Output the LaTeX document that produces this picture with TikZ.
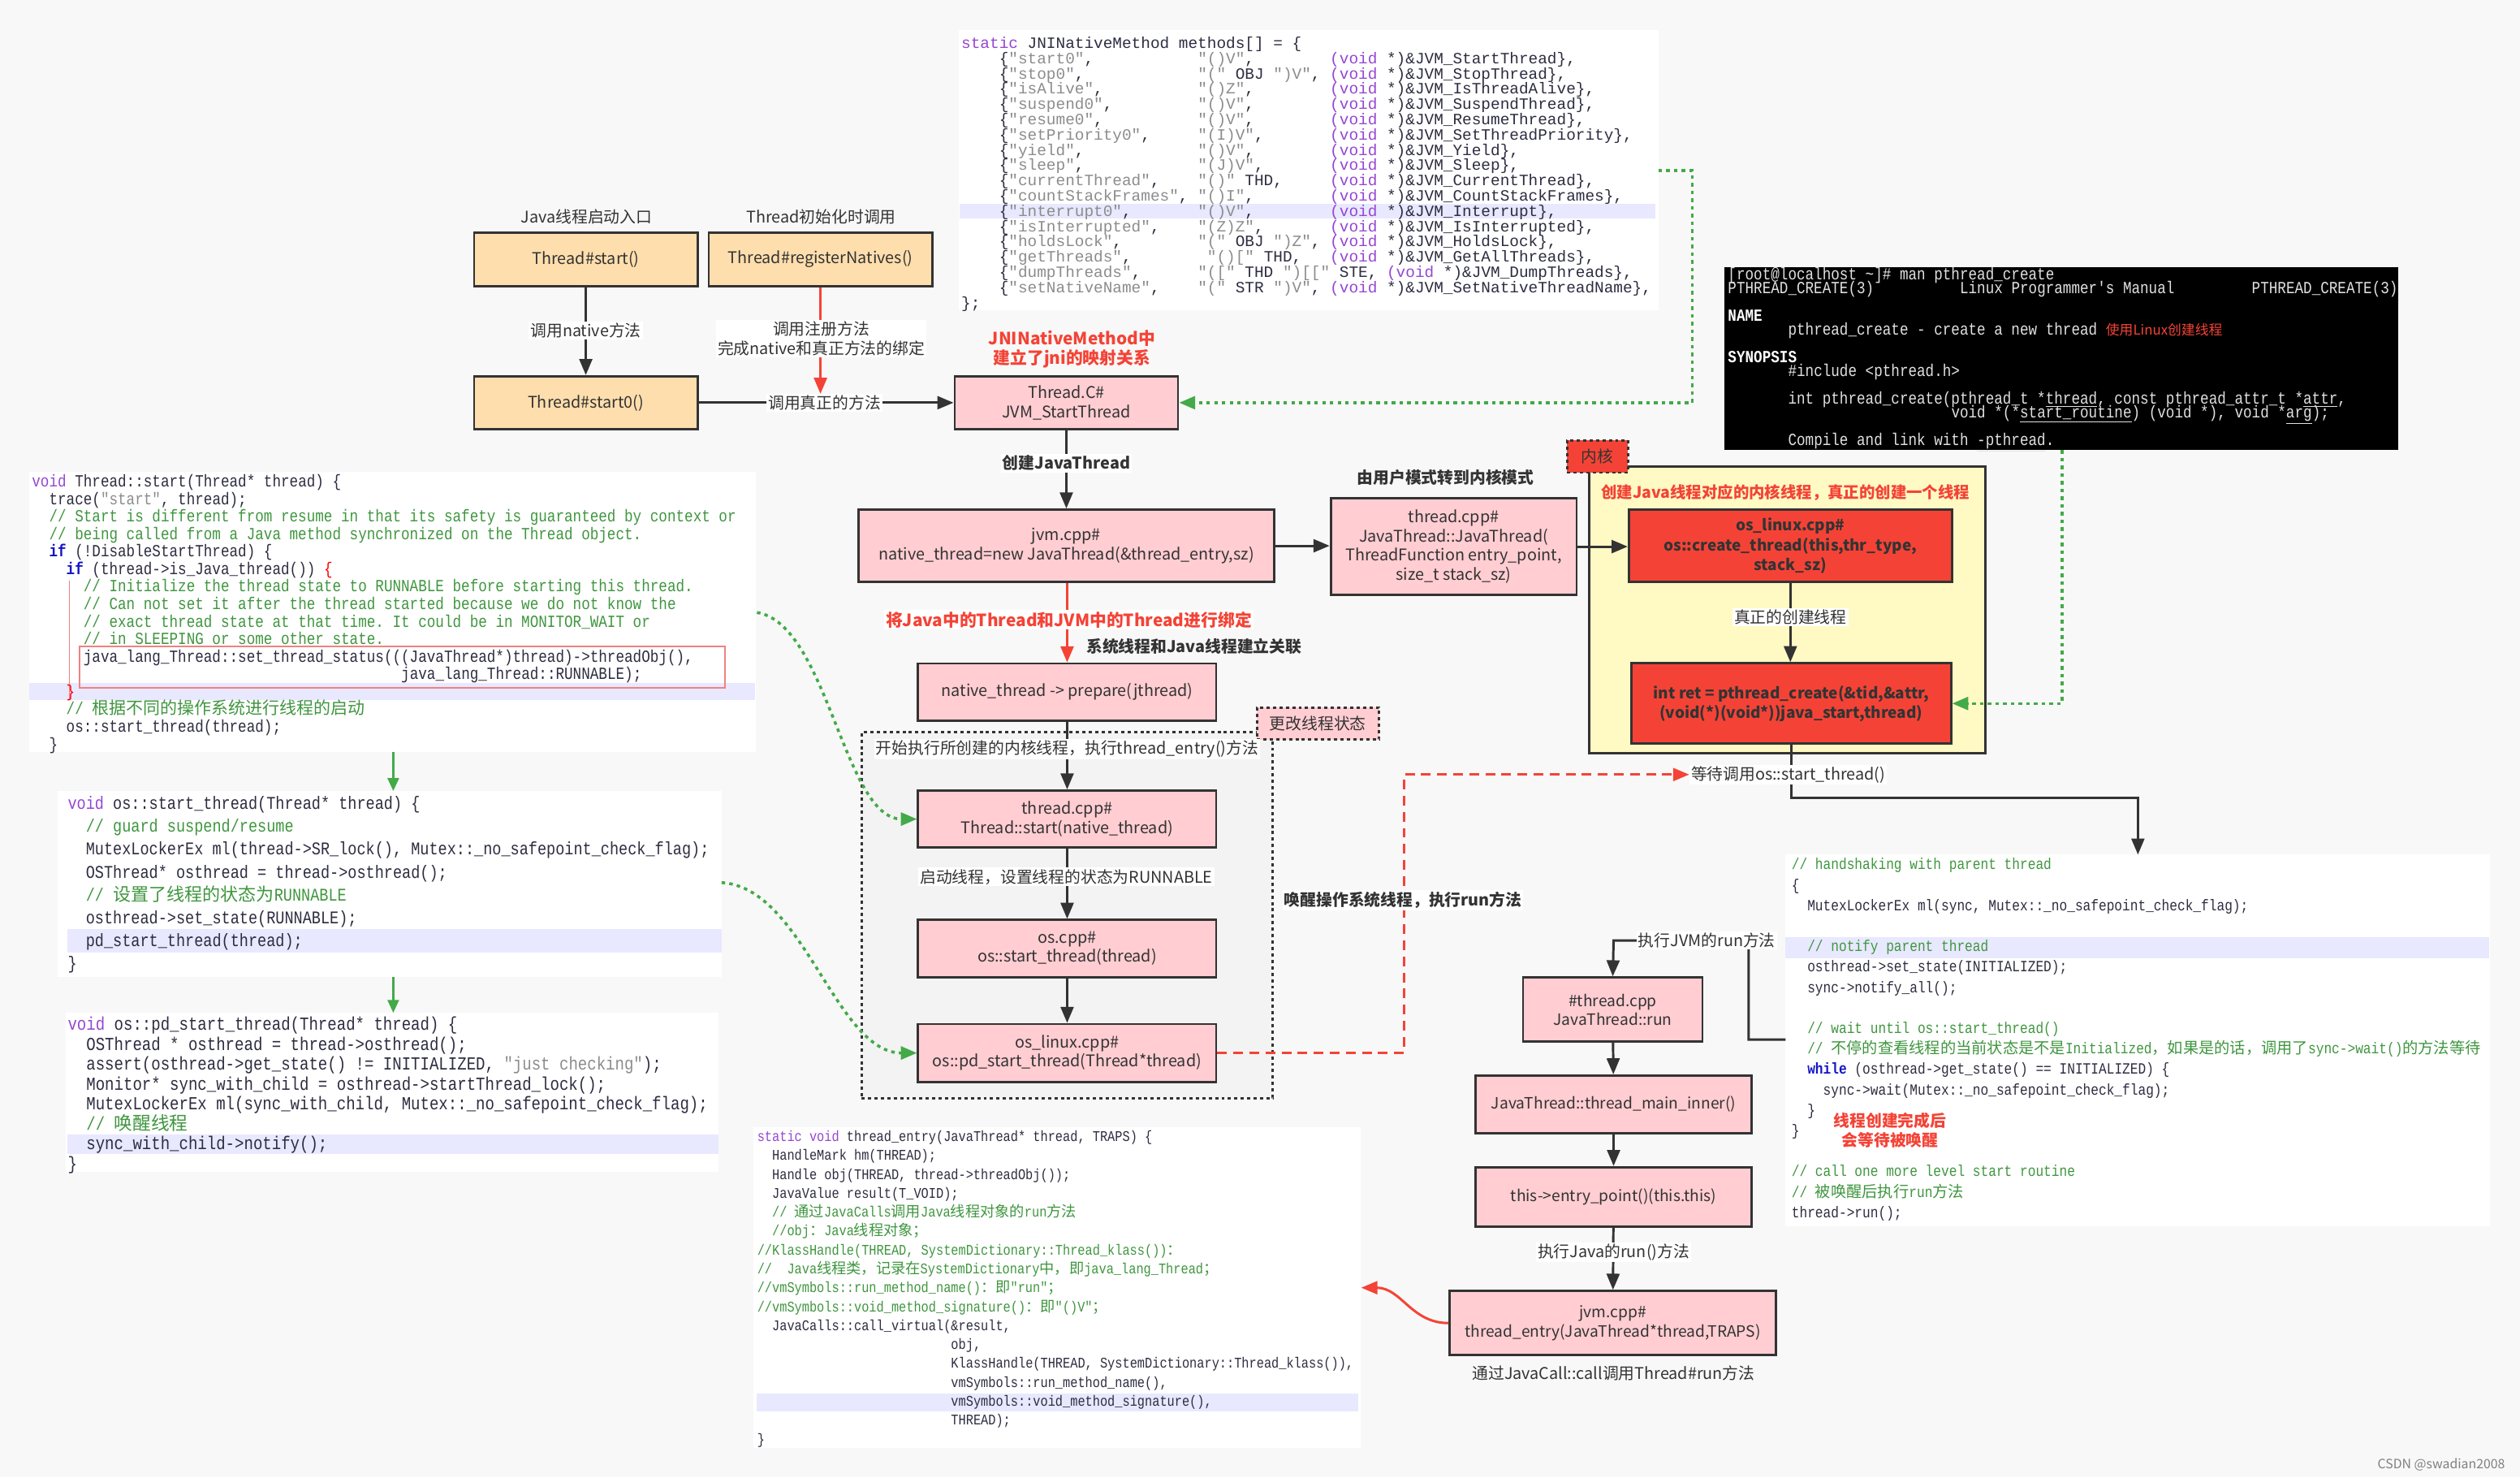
\documentclass[tikz,border=0pt]{standalone}
\usepackage{fontspec}
\setmainfont{Noto Sans CJK SC}
\newfontfamily\cjk{Noto Sans CJK SC}
\newfontfamily\codeW{Liberation Mono}
\newfontfamily\codeN[FakeStretch=0.84]{Liberation Mono}
\usetikzlibrary{arrows.meta}
\definecolor{bgc}{RGB}{248,248,248}
\definecolor{dk}{RGB}{51,51,51}
\definecolor{orangef}{RGB}{255,222,173}
\definecolor{pinkf}{RGB}{255,205,210}
\definecolor{redf}{RGB}{244,67,54}
\definecolor{yelf}{RGB}{255,249,196}
\definecolor{grpf}{RGB}{243,243,243}
\definecolor{grn}{RGB}{67,170,72}
\definecolor{ckw}{RGB}{150,70,210}
\definecolor{cst}{RGB}{140,140,140}
\definecolor{ccm}{RGB}{63,150,63}
\definecolor{cbk}{RGB}{20,20,200}
\definecolor{ctx}{RGB}{45,45,65}
\definecolor{hl}{RGB}{232,232,255}
\definecolor{termtx}{RGB}{225,225,225}
\definecolor{boxred}{RGB}{240,130,130}
\newlength\cw
\newcommand\Kw[1]{{\color{ckw}#1}}
\newcommand\Str[1]{{\color{cst}#1}}
\newcommand\Cmt[1]{{\color{ccm}#1}}
\newcommand\Bk[1]{{\color{cbk}\bfseries #1}}
\newcommand\Ix[1]{\hskip #1\cw\relax}
\newcommand\Pad[2]{\makebox[#1\cw][l]{#2}}
\newcommand\Ln[1]{\hbox{#1}}
\newcommand\CodeBlk[5][ctx]{{#2\fontsize{#3}{#4}\selectfont\frenchspacing\settowidth{\cw}{0}\color{#1}\vtop{\lineskiplimit=-100pt\lineskip=0pt\relax #5}}}
\begin{document}
\begin{tikzpicture}[x=1pt,y=-1pt,
 bx/.style={draw=dk, line width=1.4pt, inner sep=1pt, align=center, text=dk, font=\fontsize{10}{11.8}\selectfont},
 obox/.style={bx, fill=orangef},
 pbox/.style={bx, fill=pinkf},
 wbox/.style={bx, fill=pinkf, font=\fontsize{9.7}{11.8}\selectfont},
 rbox/.style={bx, fill=redf, font=\fontsize{9.6}{12.2}\selectfont\bfseries},
 lbl/.style={fill=white, inner sep=1pt, align=center, text=dk, font=\fontsize{10}{12.2}\selectfont},
 blbl/.style={inner sep=1pt, align=center, text=dk, font=\fontsize{10}{12}\selectfont\bfseries},
 bwlbl/.style={blbl, fill=white},
 rlbl/.style={inner sep=1pt, align=center, text=redf, font=\fontsize{10.5}{12}\selectfont\bfseries},
 plbl/.style={inner sep=1pt, align=center, text=dk, font=\fontsize{10}{12}\selectfont},
 myarr/.style={-{Triangle[length=10pt,width=8pt]}},
 barr/.style={draw=dk, line width=1.5pt, myarr},
 garr/.style={draw=grn, line width=1.8pt, dash pattern=on 2.2pt off 2.6pt, myarr},
 gsol/.style={draw=grn, line width=1.4pt, -{Triangle[length=8pt,width=7pt]}},
 rarr/.style={draw=redf, line width=1.5pt, myarr},
 rdarr/.style={rarr, dash pattern=on 6pt off 4pt},
 codebg/.style={fill=white, inner sep=0pt, outer sep=0pt, anchor=north west},
 cd/.style={anchor=base west, inner sep=0pt},
 dotbox/.style={draw=dk, line width=1.5pt, dash pattern=on 2pt off 2pt, inner sep=0pt, outer sep=0pt}
]
\useasboundingbox (0,0) rectangle (1568,919);
\fill[bgc] (0,0) rectangle (1568,919);

% ---------- code block backgrounds ----------
\node[codebg, minimum width=435.5pt, minimum height=174.4pt] (A) at (596.5,18.6) {};
\node[codebg, minimum width=452.5pt, minimum height=174.5pt] (L1) at (18,293.5) {};
\node[codebg, minimum width=413pt, minimum height=115.6pt] (L2) at (36,492) {};
\node[codebg, minimum width=406pt, minimum height=99pt] (L3) at (41,630) {};
\node[codebg, minimum width=377.5pt, minimum height=199.5pt] (B) at (469,701) {};
\node[codebg, minimum width=438.5pt, minimum height=231pt] (C) at (1111,531.6) {};
\node[codebg, fill=black, minimum width=419pt, minimum height=114pt] (term) at (1073,166) {};

% highlights
\fill[hl] (597,126.6) rectangle (1030,135.9);
\fill[hl] (18,425) rectangle (470,435.5);
\fill[hl] (42,578) rectangle (449,592.5);
\fill[hl] (42,705.5) rectangle (447,718);
\fill[hl] (471,867) rectangle (845,878);
\fill[hl] (1111,583) rectangle (1549,596);
\draw[boxred, line width=0.8pt] (49.5,402) rectangle (451,428);
\draw[boxred, line width=0.6pt] (43,361) -- (43,435);

% ---------- code A ----------
\node[cd] at (598,30) {\CodeBlk{\codeW}{9.8}{9.5}{
\Ln{\Kw{static} JNINativeMethod methods[] = \{}
\Ln{\Ix{4}\Pad{21}{\{\Str{"start0"},}\Pad{14}{\Str{"()V"},}\Kw{(void} *)\&JVM\_StartThread\},}
\Ln{\Ix{4}\Pad{21}{\{\Str{"stop0"},}\Pad{14}{\Str{"("} OBJ \Str{")V"},}\Kw{(void} *)\&JVM\_StopThread\},}
\Ln{\Ix{4}\Pad{21}{\{\Str{"isAlive"},}\Pad{14}{\Str{"()Z"},}\Kw{(void} *)\&JVM\_IsThreadAlive\},}
\Ln{\Ix{4}\Pad{21}{\{\Str{"suspend0"},}\Pad{14}{\Str{"()V"},}\Kw{(void} *)\&JVM\_SuspendThread\},}
\Ln{\Ix{4}\Pad{21}{\{\Str{"resume0"},}\Pad{14}{\Str{"()V"},}\Kw{(void} *)\&JVM\_ResumeThread\},}
\Ln{\Ix{4}\Pad{21}{\{\Str{"setPriority0"},}\Pad{14}{\Str{"(I)V"},}\Kw{(void} *)\&JVM\_SetThreadPriority\},}
\Ln{\Ix{4}\Pad{21}{\{\Str{"yield"},}\Pad{14}{\Str{"()V"},}\Kw{(void} *)\&JVM\_Yield\},}
\Ln{\Ix{4}\Pad{21}{\{\Str{"sleep"},}\Pad{14}{\Str{"(J)V"},}\Kw{(void} *)\&JVM\_Sleep\},}
\Ln{\Ix{4}\Pad{21}{\{\Str{"currentThread"},}\Pad{14}{\Str{"()"} THD,}\Kw{(void} *)\&JVM\_CurrentThread\},}
\Ln{\Ix{4}\Pad{21}{\{\Str{"countStackFrames"},}\Pad{14}{\Str{"()I"},}\Kw{(void} *)\&JVM\_CountStackFrames\},}
\Ln{\Ix{4}\Pad{21}{\{\Str{"interrupt0"},}\Pad{14}{\Str{"()V"},}\Kw{(void} *)\&JVM\_Interrupt\},}
\Ln{\Ix{4}\Pad{21}{\{\Str{"isInterrupted"},}\Pad{14}{\Str{"(Z)Z"},}\Kw{(void} *)\&JVM\_IsInterrupted\},}
\Ln{\Ix{4}\Pad{21}{\{\Str{"holdsLock"},}\Pad{14}{\Str{"("} OBJ \Str{")Z"},}\Kw{(void} *)\&JVM\_HoldsLock\},}
\Ln{\Ix{4}\Pad{22}{\{\Str{"getThreads"},}\Pad{13}{\Str{"()["} THD,}\Kw{(void} *)\&JVM\_GetAllThreads\},}
\Ln{\Ix{4}\Pad{21}{\{\Str{"dumpThreads"},}\Str{"(["} THD \Str{")[["} STE, \Kw{(void} *)\&JVM\_DumpThreads\},}
\Ln{\Ix{4}\Pad{21}{\{\Str{"setNativeName"},}\Pad{14}{\Str{"("} STR \Str{")V"},}\Kw{(void} *)\&JVM\_SetNativeThreadName\},}
\Ln{\};}
}};

% ---------- terminal ----------
\node[cd] at (1075,174) {\CodeBlk[termtx]{\codeN}{10.6}{8.6}{
\Ln{[root@localhost \textasciitilde]\# man pthread\_create}
\Ln{PTHREAD\_CREATE(3)\Ix{10}Linux Programmer's Manual\Ix{9}PTHREAD\_CREATE(3)}
\Ln{}
\Ln{{\color{white}\bfseries NAME}}
\Ln{\Ix{7}pthread\_create - create a new thread {\color{redf}\cjk\fontsize{8.5}{8.6}\selectfont 使用Linux创建线程}}
\Ln{}
\Ln{{\color{white}\bfseries SYNOPSIS}}
\Ln{\Ix{7}\#include <pthread.h>}
\Ln{}
\Ln{\Ix{7}int pthread\_create(pthread\_t *\underline{thread}, const pthread\_attr\_t *\underline{attr},}
\Ln{\Ix{26}void *(*\underline{start\_routine}) (void *), void *\underline{arg});}
\Ln{}
\Ln{\Ix{7}Compile and link with \underline{-pthread}.}
}};

% ---------- code L1 ----------
\node[cd] at (19.7,302.8) {\CodeBlk{\codeN}{10.6}{10.9}{
\Ln{\Kw{void} Thread::start(Thread* thread) \{}
\Ln{\Ix{2}trace(\Str{"start"}, thread);}
\Ln{\Ix{2}\Cmt{// Start is different from resume in that its safety is guaranteed by context or}}
\Ln{\Ix{2}\Cmt{// being called from a Java method synchronized on the Thread object.}}
\Ln{\Ix{2}\Bk{if} (!DisableStartThread) \{}
\Ln{\Ix{4}\Bk{if} (thread->is\_Java\_thread()) {\color{red}\{}}
\Ln{\Ix{6}\Cmt{// Initialize the thread state to RUNNABLE before starting this thread.}}
\Ln{\Ix{6}\Cmt{// Can not set it after the thread started because we do not know the}}
\Ln{\Ix{6}\Cmt{// exact thread state at that time. It could be in MONITOR\_WAIT or}}
\Ln{\Ix{6}\Cmt{// in SLEEPING or some other state.}}
\Ln{\Ix{6}java\_lang\_Thread::set\_thread\_status(((JavaThread*)thread)->threadObj(),}
\Ln{\Ix{43}java\_lang\_Thread::RUNNABLE);}
\Ln{\Ix{4}{\color{red}\}}}
\Ln{\Ix{4}\Cmt{// {\cjk 根据不同的操作系统进行线程的启动}}}
\Ln{\Ix{4}os::start\_thread(thread);}
\Ln{\Ix{2}\}}
}};

% ---------- code L2 ----------
\node[cd] at (42,503.5) {\CodeBlk{\codeN}{11.15}{14.2}{
\Ln{\Kw{void} os::start\_thread(Thread* thread) \{}
\Ln{\Ix{2}\Cmt{// guard suspend/resume}}
\Ln{\Ix{2}MutexLockerEx ml(thread->SR\_lock(), Mutex::\_no\_safepoint\_check\_flag);}
\Ln{\Ix{2}OSThread* osthread = thread->osthread();}
\Ln{\Ix{2}\Cmt{// {\cjk 设置了线程的状态为}RUNNABLE}}
\Ln{\Ix{2}osthread->set\_state(RUNNABLE);}
\Ln{\Ix{2}pd\_start\_thread(thread);}
\Ln{\}}
}};

% ---------- code L3 ----------
\node[cd] at (42,641) {\CodeBlk{\codeN}{11.45}{12.37}{
\Ln{\Kw{void} os::pd\_start\_thread(Thread* thread) \{}
\Ln{\Ix{2}OSThread * osthread = thread->osthread();}
\Ln{\Ix{2}assert(osthread->get\_state() != INITIALIZED, \Str{"just checking"});}
\Ln{\Ix{2}Monitor* sync\_with\_child = osthread->startThread\_lock();}
\Ln{\Ix{2}MutexLockerEx ml(sync\_with\_child, Mutex::\_no\_safepoint\_check\_flag);}
\Ln{\Ix{2}\Cmt{// {\cjk 唤醒线程}}}
\Ln{\Ix{2}sync\_with\_child->notify();}
\Ln{\}}
}};

% ---------- code B ----------
\node[cd] at (471,710) {\CodeBlk{\codeN}{9.2}{11.76}{
\Ln{\Kw{static void} thread\_entry(JavaThread* thread, TRAPS) \{}
\Ln{\Ix{2}HandleMark hm(THREAD);}
\Ln{\Ix{2}Handle obj(THREAD, thread->threadObj());}
\Ln{\Ix{2}JavaValue result(T\_VOID);}
\Ln{\Ix{2}\Cmt{// {\cjk 通过}JavaCalls{\cjk 调用}Java{\cjk 线程对象的}run{\cjk 方法}}}
\Ln{\Ix{2}\Cmt{//obj{\cjk ：}Java{\cjk 线程对象；}}}
\Ln{\Cmt{//KlassHandle(THREAD, SystemDictionary::Thread\_klass()){\cjk ：}}}
\Ln{\Cmt{//\Ix{2}Java{\cjk 线程类，记录在}SystemDictionary{\cjk 中，即}java\_lang\_Thread{\cjk ；}}}
\Ln{\Cmt{//vmSymbols::run\_method\_name(){\cjk ：即}"run"{\cjk ；}}}
\Ln{\Cmt{//vmSymbols::void\_method\_signature(){\cjk ：即}"()V"{\cjk ；}}}
\Ln{\Ix{2}JavaCalls::call\_virtual(\&result,}
\Ln{\Ix{26}obj,}
\Ln{\Ix{26}KlassHandle(THREAD, SystemDictionary::Thread\_klass()),}
\Ln{\Ix{26}vmSymbols::run\_method\_name(),}
\Ln{\Ix{26}vmSymbols::void\_method\_signature(),}
\Ln{\Ix{26}THREAD);}
\Ln{\}}
}};

% ---------- code C ----------
\node[cd] at (1114.6,541) {\CodeBlk{\codeN}{9.72}{12.73}{
\Ln{\Cmt{// handshaking with parent thread}}
\Ln{\{}
\Ln{\Ix{2}MutexLockerEx ml(sync, Mutex::\_no\_safepoint\_check\_flag);}
\Ln{}
\Ln{\Ix{2}\Cmt{// notify parent thread}}
\Ln{\Ix{2}osthread->set\_state(INITIALIZED);}
\Ln{\Ix{2}sync->notify\_all();}
\Ln{}
\Ln{\Ix{2}\Cmt{// wait until os::start\_thread()}}
\Ln{\Ix{2}\Cmt{// {\cjk 不停的查看线程的当前状态是不是}Initialized{\cjk ，如果是的话，调用了}sync->wait(){\cjk 的方法等待}}}
\Ln{\Ix{2}\Bk{while} (osthread->get\_state() == INITIALIZED) \{}
\Ln{\Ix{4}sync->wait(Mutex::\_no\_safepoint\_check\_flag);}
\Ln{\Ix{2}\}}
\Ln{\}}
\Ln{}
\Ln{\Cmt{// call one more level start routine}}
\Ln{\Cmt{// {\cjk 被唤醒后执行}run{\cjk 方法}}}
\Ln{thread->run();}
}};
\node[rlbl, font=\fontsize{10}{11.8}\selectfont\bfseries] at (1176,703) {线程创建完成后\\会等待被唤醒};

% ---------- containers ----------
\node[dotbox, fill=grpf, anchor=north west, minimum width=256pt, minimum height=227.5pt] (grp) at (536,455.5) {};
\node[dotbox, fill=pinkf, minimum width=76pt, minimum height=20pt, font=\fontsize{10}{12}\selectfont, text=dk] (chg) at (820,450) {更改线程状态};
\node[draw=dk, line width=1.4pt, fill=yelf, anchor=north west, inner sep=0pt, minimum width=246.5pt, minimum height=178.5pt] (ybox) at (988,289.5) {};
\node[dotbox, fill=redf, minimum width=38pt, minimum height=20pt, font=\fontsize{10}{12}\selectfont, text=dk] (kern) at (994,284) {内核};

% ---------- boxes ----------
\node[obox, minimum width=139pt, minimum height=33.5pt] (start) at (364.5,161.3) {Thread\#start()};
\node[obox, minimum width=139pt, minimum height=33.5pt] (reg) at (510.5,161.3) {Thread\#registerNatives()};
\node[obox, minimum width=139pt, minimum height=33pt] (start0) at (364.5,250.5) {Thread\#start0()};
\node[pbox, minimum width=139pt, minimum height=33pt] (threadC) at (663.5,250.5) {Thread.C\#\\JVM\_StartThread};
\node[pbox, minimum width=259pt, minimum height=45pt] (jvm) at (663.5,339.5) {jvm.cpp\#\\native\_thread=new JavaThread(\&thread\_entry,sz)};
\node[pbox, minimum width=153pt, minimum height=60pt] (tcpp) at (904.5,340) {thread.cpp\#\\JavaThread::JavaThread(\\ThreadFunction entry\_point,\\size\_t stack\_sz)};
\node[pbox, minimum width=185.5pt, minimum height=35.5pt] (prep) at (664,430.5) {native\_thread -> prepare(jthread)};
\node[pbox, minimum width=185.5pt, minimum height=35.5pt] (tstart) at (664,509.5) {thread.cpp\#\\Thread::start(native\_thread)};
\node[pbox, minimum width=185.5pt, minimum height=35.5pt] (oscpp) at (664,590) {os.cpp\#\\os::start\_thread(thread)};
\node[pbox, minimum width=185.5pt, minimum height=36pt] (oslin) at (664,655) {os\_linux.cpp\#\\os::pd\_start\_thread(Thread*thread)};
\node[rbox, minimum width=201pt, minimum height=45pt] (crt) at (1114,339.5) {os\_linux.cpp\#\\os::create\_thread(this,thr\_type,\\stack\_sz)};
\node[rbox, minimum width=199pt, minimum height=50pt] (pth) at (1114.5,437.6) {int ret = pthread\_create(\&tid,\&attr,\\(void(*)(void*))java\_start,thread)};
\node[wbox, minimum width=111.7pt, minimum height=40pt] (run) at (1003.5,628) {\#thread.cpp\\JavaThread::run};
\node[wbox, minimum width=172pt, minimum height=36pt] (inner) at (1004,687) {JavaThread::thread\_main\_inner()};
\node[wbox, minimum width=172pt, minimum height=37pt] (entry) at (1004,744.5) {this->entry\_point()(this.this)};
\node[wbox, minimum width=203pt, minimum height=40pt] (tentry) at (1003.5,823) {jvm.cpp\#\\thread\_entry(JavaThread*thread,TRAPS)};

% ---------- coordinates ----------
\coordinate (regend) at (510.5,245);
\coordinate (a1) at (1032,106);
\coordinate (t1) at (1283,280);
\coordinate (l1) at (471,381);
\coordinate (l2) at (449,549);
\coordinate (b1) at (847,801);
\coordinate (c1) at (1111,646.6);
\coordinate (r1) at (1004,585);
\coordinate (pthbend) at (1114.5,496.5);

% ---------- connectors ----------
\draw[barr] (start) -- (start0);
\draw[barr] (start0) -- (threadC);
\draw[rarr] (reg.south) -- (regend);
\draw[barr] (threadC) -- (jvm.north -| threadC.south);
\draw[barr] (jvm.east) -- (jvm.east -| tcpp.west);
\draw[barr] (tcpp.east) -- (tcpp.east -| crt.west);
\draw[rarr] (jvm.south -| prep.north) -- (prep.north);
\draw[barr] (prep) -- (tstart);
\draw[barr] (tstart) -- (oscpp);
\draw[barr] (oscpp) -- (oslin);
\draw[barr] (crt) -- (crt.south |- pth.north);
\draw[barr] (pth.south) -- (pthbend) -| (C.north);
\draw[garr] (a1) -- ++(21,0) |- (threadC.east);
\draw[garr] (t1) |- (pth.east);
\draw[garr] (l1) .. controls (515,388) and (525,509.5) .. (tstart.west);
\draw[garr] (l2) .. controls (500,552) and (520,655) .. (oslin.west);
\draw[gsol] (L1.south -| 244.7,0) -- (L2.north -| 244.7,0);
\draw[gsol] (L2.south -| 244.7,0) -- (L3.north -| 244.7,0);
\draw[barr] (c1) -- ++(-23,0) |- (r1) -- (run.north);
\draw[barr] (run) -- (inner);
\draw[barr] (inner) -- (entry);
\draw[barr] (entry) -- (tentry);
\draw[rarr] (tentry.west) .. controls (878,823) and (872,801) .. (b1);

% ---------- labels ----------
\node[plbl] at (365,135) {Java线程启动入口};
\node[plbl] at (511,135) {Thread初始化时调用};
\node[lbl] at (364.5,205.5) {调用native方法};
\node[lbl] at (511,210.6) {调用注册方法\\完成native和真正方法的绑定};
\node[lbl] at (513,250.5) {调用真正的方法};
\node[rlbl] at (667,217) {JNINativeMethod中\\建立了jni的映射关系};
\node[bwlbl] at (663.5,288) {创建JavaThread};
\node[blbl] at (899.5,297) {由用户模式转到内核模式};
\node[rlbl, fill=white] at (665,385.5) {将Java中的Thread和JVM中的Thread进行绑定};
\node[blbl] at (743,402) {系统线程和Java线程建立关联};
\node[lbl] at (664,466) {开始执行所创建的内核线程，执行thread\_entry()方法};
\node[lbl] at (663.5,545.5) {启动线程，设置线程的状态为RUNNABLE};
\node[rlbl, font=\fontsize{9.8}{12}\selectfont\bfseries] at (1111,306.6) {创建Java线程对应的内核线程，真正的创建一个线程};
\node[lbl] at (1114,384) {真正的创建线程};
\node[lbl] (waitl) at (1112.6,481.8) {等待调用os::start\_thread()};
\node[lbl] at (1062,585) {执行JVM的run方法};
\node[lbl] at (1004,779) {执行Java的run()方法};
\node[plbl] at (1004,854) {通过JavaCall::call调用Thread\#run方法};

\draw[rdarr] (oslin.east) -- ++(116,0) |- (waitl.west);
\node[bwlbl] at (873,560) {唤醒操作系统线程，执行run方法};

\node[plbl, text=gray, font=\fontsize{8}{9}\selectfont] at (1519,911) {CSDN @swadian2008};
\end{tikzpicture}
\end{document}
